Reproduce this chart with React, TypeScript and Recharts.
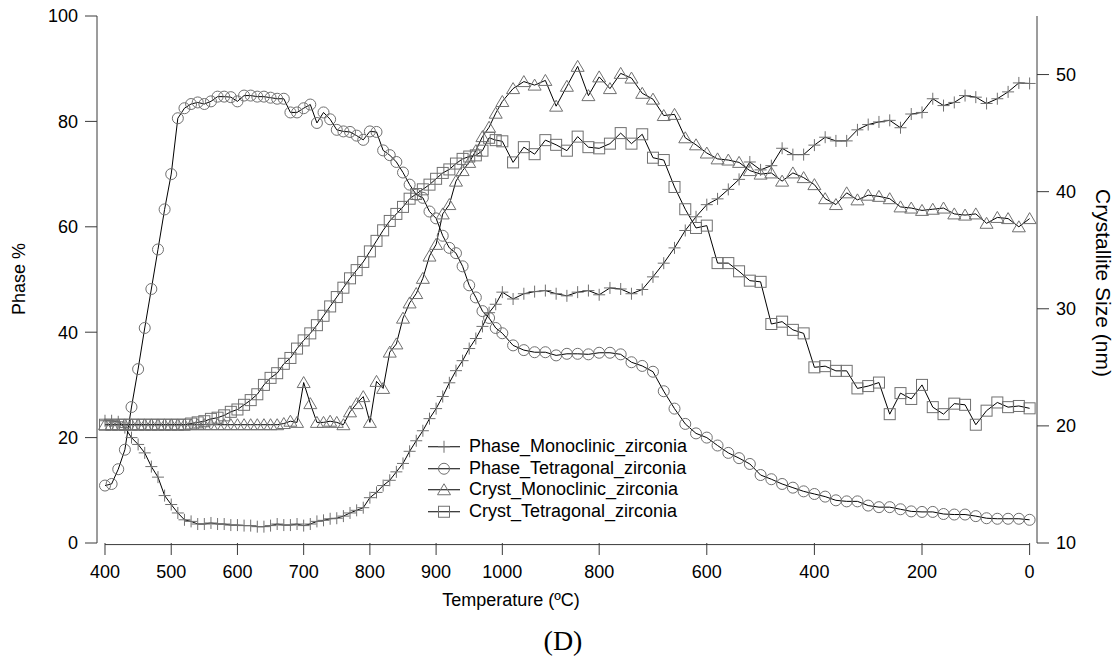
import React from 'react';
import { LineChart, Line, XAxis, YAxis, ReferenceLine } from 'recharts';

// scan grid: heating 400 -> 1000 °C every 10 °C, then cooling every 20 °C down to 0 °C
const HEAT_STEP = 1;
const COOL_STEP = 1.625;
const heatTemps = Array.from({ length: 61 }, (_, i) => 400 + 10 * i);
const coolTemps = Array.from({ length: 49 }, (_, k) => 960 - 20 * k);
const heatTime = heatTemps.map((_, i) => i * HEAT_STEP);
const coolTime = coolTemps.map((_, k) => heatTime[heatTime.length - 1] + (k + 1) * COOL_STEP);

const xTickHeat = [400, 500, 600, 700, 800, 900, 1000];
const xTickCool = [800, 600, 400, 200, 0];
const xTickLabels = [...xTickHeat, ...xTickCool].map(String);
const leftTicks = [0, 20, 40, 60, 80, 100];
const rightTicks = [10, 20, 30, 40, 50];

// Phase % (left axis)
const phaseMono = [
  23.2, 23.2, 23.0, 21.9, 20.0, 18.7, 17.1, 14.5, 12.5, 9.0,
  7.3, 5.7, 4.4, 4.1, 3.6, 3.6, 3.8, 3.6, 3.6, 3.4,
  3.4, 3.3, 3.3, 3.1, 3.1, 3.3, 3.6, 3.4, 3.4, 3.6,
  3.3, 3.6, 4.1, 4.3, 4.6, 4.7, 5.1, 5.7, 6.2, 6.7,
  8.6, 9.6, 10.9, 11.9, 13.5, 15.1, 17.4, 19.4, 21.3, 23.6,
  25.5, 27.8, 30.4, 32.7, 34.6, 36.9, 38.8, 41.1, 43.7, 45.3, 47.6,
  46.3, 47.3, 47.7, 47.9, 47.3, 46.9, 47.6, 47.9, 47.1, 48.4,
  48.2, 47.3, 48.1, 50.5, 53.1, 56.0, 59.3, 61.9, 64.2, 65.3,
  67.1, 69.0, 72.3, 70.8, 71.6, 74.9, 73.7, 73.7, 75.5, 77.0,
  76.3, 76.3, 78.4, 79.4, 79.9, 80.2, 78.8, 81.4, 81.7, 84.3,
  83.0, 83.6, 84.9, 84.6, 83.4, 84.3, 85.6, 87.3, 87.2,
];
const phaseTetra = [
  10.9, 11.2, 14.0, 17.7, 25.8, 33.0, 40.8, 48.2, 55.7, 63.3,
  70.0, 80.6, 82.5, 83.3, 83.6, 83.3, 83.8, 84.7, 84.7, 84.6,
  83.8, 84.9, 84.9, 84.7, 84.7, 84.5, 84.3, 84.3, 81.7, 81.7,
  82.5, 83.2, 79.7, 81.7, 80.4, 78.4, 78.1, 78.0, 77.3, 76.5,
  78.1, 78.0, 74.5, 73.6, 72.3, 70.3, 68.0, 66.1, 65.5, 62.9,
  61.6, 58.3, 56.0, 55.0, 52.5, 48.9, 46.6, 44.0, 42.7, 40.8, 39.8,
  37.5, 36.6, 36.2, 36.2, 35.6, 35.9, 35.9, 35.8, 36.1, 36.1,
  35.8, 34.3, 33.6, 32.5, 28.8, 25.5, 22.6, 20.8, 20.0, 18.5,
  17.1, 16.1, 15.0, 12.9, 12.1, 11.2, 10.5, 9.8, 9.3, 8.8,
  8.1, 7.9, 7.9, 7.1, 6.8, 6.8, 6.4, 6.0, 5.9, 5.9,
  5.5, 5.4, 5.4, 5.1, 4.7, 4.6, 4.6, 4.6, 4.4,
];

// Crystallite size, nm (right axis)
const crystMono = [
  20.1, 20.1, 20.1, 20.1, 20.1, 20.1, 20.1, 20.1, 20.1, 20.1,
  20.1, 20.1, 20.1, 20.1, 20.1, 20.1, 20.1, 20.1, 20.1, 20.1,
  20.1, 20.1, 20.1, 20.1, 20.1, 20.1, 20.1, 20.2, 20.4, 20.3,
  23.7, 21.9, 20.3, 20.3, 20.4, 20.3, 20.1, 21.2, 21.9, 22.5,
  20.3, 23.8, 23.2, 26.3, 27.0, 29.2, 30.5, 31.3, 32.6, 34.5,
  35.5, 38.1, 38.9, 40.9, 41.8, 42.5, 43.5, 44.7, 45.5, 46.7, 47.7,
  48.8, 49.4, 49.1, 49.5, 47.3, 49.0, 50.7, 48.2, 49.8, 48.8,
  50.1, 49.7, 48.4, 47.9, 46.5, 46.6, 44.6, 44.0, 43.3, 42.8,
  42.7, 42.5, 41.8, 41.5, 41.6, 40.9, 41.6, 41.2, 40.6, 39.4,
  38.9, 39.9, 39.3, 39.7, 39.6, 39.4, 38.7, 38.6, 38.4, 38.5,
  38.6, 38.1, 38.0, 38.1, 37.3, 37.8, 37.7, 37.0, 37.7,
];
const crystTetra = [
  20.1, 20.1, 20.1, 20.1, 20.1, 20.1, 20.1, 20.1, 20.1, 20.1,
  20.1, 20.1, 20.1, 20.2, 20.3, 20.4, 20.6, 20.7, 20.9, 21.2,
  21.4, 21.8, 22.2, 22.7, 23.5, 24.1, 24.5, 25.3, 25.8, 26.6,
  27.3, 27.9, 28.6, 29.4, 30.2, 31.0, 31.8, 32.6, 33.3, 34.0,
  34.9, 35.8, 36.7, 37.5, 38.1, 38.7, 39.4, 39.8, 40.2, 40.6,
  41.1, 41.6, 41.9, 42.4, 42.8, 43.0, 43.1, 43.5, 44.6, 44.4, 44.3,
  42.5, 43.8, 43.2, 44.4, 44.0, 43.5, 44.7, 43.8, 43.7, 44.1,
  45.0, 44.1, 44.9, 42.9, 42.7, 40.4, 38.5, 36.9, 37.1, 33.9,
  33.9, 33.2, 32.4, 32.3, 28.7, 28.9, 28.2, 27.9, 25.0, 25.1,
  24.7, 24.7, 23.2, 23.4, 23.7, 21.0, 22.8, 22.3, 23.5, 21.6,
  21.0, 21.9, 21.8, 20.1, 21.3, 22.0, 21.6, 21.7, 21.5,
];

const time = [...heatTime, ...coolTime];
const data = time.map((t, i) => ({
  t,
  phaseMono: phaseMono[i],
  phaseTetra: phaseTetra[i],
  crystMono: crystMono[i],
  crystTetra: crystTetra[i],
}));

const xTicks = [
  ...xTickHeat.map((T) => heatTime[heatTemps.indexOf(T)]),
  ...xTickCool.map((T) => coolTime[coolTemps.indexOf(T)]),
];

const FONT = '"Liberation Sans", Arial, sans-serif';
const AXIS = '#3a3a3a';
const MARK = '#707070';

type M = { cx?: number; cy?: number };

const PlusMark = ({ cx = 0, cy = 0 }: M) => (
  <path d={`M${cx - 6},${cy}H${cx + 6}M${cx},${cy - 6}V${cy + 6}`} stroke={MARK} strokeWidth={1} fill="none" />
);
const CircleMark = ({ cx = 0, cy = 0 }: M) => (
  <circle cx={cx} cy={cy} r={5.5} stroke={MARK} strokeWidth={1} fill="none" />
);
const TriMark = ({ cx = 0, cy = 0 }: M) => (
  <path d={`M${cx},${cy - 6}L${cx + 6.5},${cy + 5}L${cx - 6.5},${cy + 5}Z`} stroke={MARK} strokeWidth={1} fill="none" />
);
const SquareMark = ({ cx = 0, cy = 0 }: M) => (
  <rect x={cx - 5.5} y={cy - 5.5} width={11} height={11} stroke={MARK} strokeWidth={1} fill="none" />
);

const dotOf = (Comp: React.FC<M>, name: string) => (p: any) => (
  <Comp key={`${name}-${p.index}`} cx={p.cx} cy={p.cy} />
);

const series = [
  { key: 'phaseMono', name: 'Phase_Monoclinic_zirconia', axis: 'phase', mark: PlusMark },
  { key: 'phaseTetra', name: 'Phase_Tetragonal_zirconia', axis: 'phase', mark: CircleMark },
  { key: 'crystMono', name: 'Cryst_Monoclinic_zirconia', axis: 'size', mark: TriMark },
  { key: 'crystTetra', name: 'Cryst_Tetragonal_zirconia', axis: 'size', mark: SquareMark },
];

const tickStyle = { fontSize: 18, fill: '#000', fontFamily: FONT };

const title = (extra: React.CSSProperties): React.CSSProperties => ({
  position: 'absolute',
  fontFamily: FONT,
  fontSize: 18,
  lineHeight: '18px',
  color: '#000',
  whiteSpace: 'nowrap',
  ...extra,
});

export default function App() {
  return (
    <div style={{ position: 'absolute', left: 0, top: 0, width: 1118, height: 657, background: '#fff' }}>
      <LineChart
        width={1118}
        height={657}
        data={data}
        margin={{ top: 16, right: 21, left: 37, bottom: 54 }}
      >
        <XAxis
          dataKey="t"
          type="number"
          domain={[-1.208, 140.74]}
          ticks={xTicks}
          interval={0}
          tickFormatter={(_v: number, i: number) => xTickLabels[i]}
          axisLine={false}
          tickLine={{ stroke: AXIS }}
          tickSize={12}
          tickMargin={10}
          tick={tickStyle}
          height={60}
        />
        <YAxis
          yAxisId="phase"
          domain={[0, 100]}
          ticks={leftTicks}
          interval={0}
          axisLine={{ stroke: AXIS }}
          tickLine={{ stroke: AXIS }}
          tickSize={12}
          tickMargin={7}
          tick={tickStyle}
          width={60}
        />
        <YAxis
          yAxisId="size"
          orientation="right"
          domain={[10, 55]}
          ticks={rightTicks}
          interval={0}
          axisLine={{ stroke: AXIS }}
          tickLine={{ stroke: AXIS }}
          tickSize={12}
          tickMargin={7}
          tick={tickStyle}
          width={60}
        />
        <ReferenceLine
          yAxisId="phase"
          segment={[
            { x: xTicks[0], y: -0.3 },
            { x: xTicks[xTicks.length - 1], y: -0.3 },
          ]}
          stroke={AXIS}
          ifOverflow="visible"
        />
        {series.map((s) => (
          <Line
            key={s.key}
            yAxisId={s.axis}
            dataKey={s.key}
            name={s.name}
            type="linear"
            stroke="#000"
            strokeWidth={1}
            dot={dotOf(s.mark, s.key)}
            activeDot={false}
            isAnimationActive={false}
          />
        ))}
      </LineChart>

      <div style={{ position: 'absolute', left: 428, top: 436 }}>
        {series.map((s) => {
          const Mk = s.mark;
          return (
            <div key={s.key} style={{ display: 'flex', alignItems: 'center', height: 21.5 }}>
              <svg width={33} height={21.5} style={{ display: 'block' }}>
                <line x1={0} x2={32} y1={10.75} y2={10.75} stroke="#000" strokeWidth={1} />
                <Mk cx={16} cy={10.75} />
              </svg>
              <span style={{ marginLeft: 8, fontFamily: FONT, fontSize: 18, lineHeight: '21.5px', color: '#000' }}>
                {s.name}
              </span>
            </div>
          );
        })}
      </div>

      <div style={title({ left: 19, top: 279, transform: 'translate(-50%, -50%) rotate(-90deg)' })}>Phase %</div>
      <div
        style={title({
          left: 1103,
          top: 283,
          fontSize: 21,
          lineHeight: '21px',
          transform: 'translate(-50%, -50%) rotate(90deg)',
        })}
      >
        Crystallite Size (nm)
      </div>
      <div style={title({ left: 511, top: 600, transform: 'translate(-50%, -50%)' })}>Temperature (ºC)</div>
      <div
        style={{
          position: 'absolute',
          left: 563,
          top: 641,
          transform: 'translate(-50%, -50%)',
          fontFamily: '"Liberation Serif", "Times New Roman", serif',
          fontSize: 28,
          lineHeight: '28px',
          color: '#000',
        }}
      >
        (D)
      </div>
    </div>
  );
}
